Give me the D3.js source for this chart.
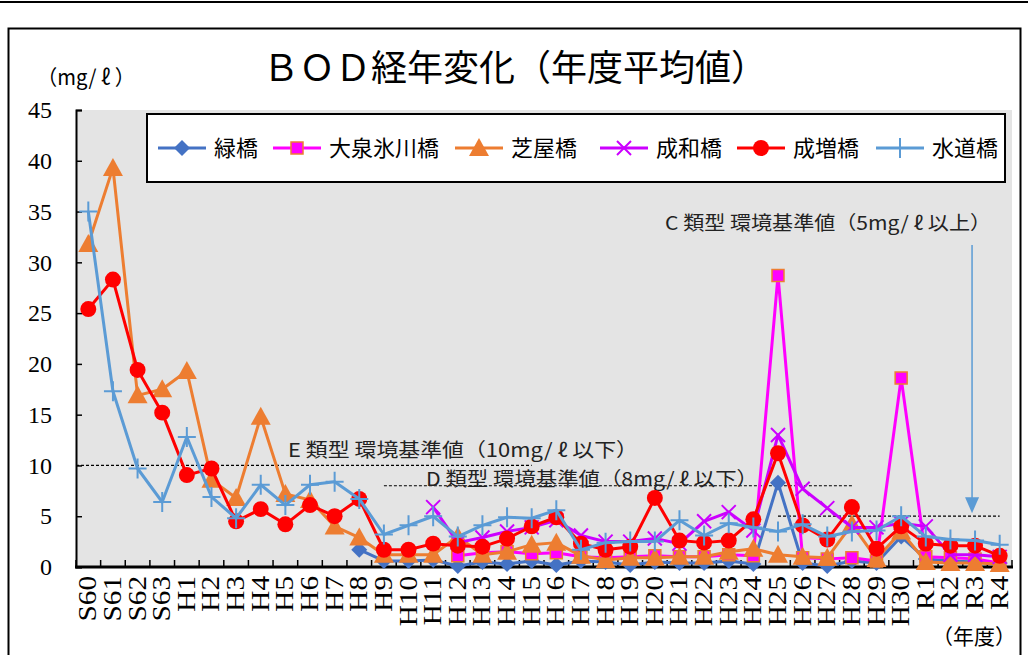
<!DOCTYPE html>
<html>
<head>
<meta charset="utf-8">
<script src="https://cdn.jsdelivr.net/npm/d3@7"></script>
<style>
  body { margin: 0; background: #fff; }
  .ytick { font-family: "Liberation Serif", "DejaVu Serif", serif !important; }
</style>
</head>
<body>
<div id="chart"></div>
<script>
const SERIF = "'Liberation Serif', 'DejaVu Serif', serif"
const JP = "'Noto Sans CJK JP', 'Noto Sans', sans-serif"

const categories = ["S60", "S61", "S62", "S63",
  "H1", "H2", "H3", "H4", "H5", "H6", "H7", "H8", "H9", "H10",
  "H11", "H12", "H13", "H14", "H15", "H16", "H17", "H18", "H19", "H20",
  "H21", "H22", "H23", "H24", "H25", "H26", "H27", "H28", "H29", "H30",
  "R1", "R2", "R3", "R4"]

const yTicks = [0, 5, 10, 15, 20, 25, 30, 35, 40, 45]

const seriesNames = ["緑橋", "大泉氷川橋", "芝屋橋", "成和橋", "成増橋", "水道橋"]

const midoriValues = [null, null, null, null, null, null, null, null, null, null, null,
  1.7, 0.6, 0.6, 0.7, 0.1, 0.5, 0.3, 0.6, 0.2, 0.6, 0.5, 0.2, 0.5,
  0.4, 0.4, 0.6, 0.3, 8.3, 0.4, 0.1, 0.6, 0.4, 3.0, 0.8, 0.6, 0.5, 0.4]

const oizumiValues = [null, null, null, null, null, null, null, null, null, null, null,
  null, null, null, null, 1.1, 1.4, 1.5, 1.3, 1.4, 1.0, 0.9, 1.0, 1.1,
  1.0, 1.0, 1.2, 1.1, 28.7, 0.9, 0.8, 0.9, 0.6, 18.6, 1.0, 0.9, 0.8, 0.4]

const shibayaValues = [31.8, 39.3, 16.9, 17.5,
  19.3, 8.6, 6.8, 14.8, 7.2, 6.6, 4.0, 2.9, 1.2, 1.2,
  1.2, 3.0, 1.2, 1.5, 2.2, 2.4, 1.1, 0.7, 0.9, 0.9,
  1.0, 1.0, 1.5, 1.8, 1.2, 1.0, 0.9, 4.2, 0.8, 3.5, 0.5, 0.4, 0.4, 0.3]

const seiwaValues = [null, null, null, null, null, null, null, null, null, null, null,
  null, null, null, 5.9, 2.4, 2.9, 3.5, 3.9, 4.6, 3.1, 2.5, 2.5, 2.8,
  2.3, 4.5, 5.4, 3.6, 13.0, 7.7, 5.8, 3.9, 3.9, 4.3, 4.0, 1.2, 1.2, 1.0]

const narimasuValues = [25.4, 28.3, 19.4, 15.2,
  9.05, 9.7, 4.5, 5.7, 4.2, 6.1, 5.0, 6.7, 1.7, 1.7,
  2.3, 2.1, 2.0, 2.8, 4.0, 4.9, 2.3, 1.7, 2.0, 6.8,
  2.6, 2.4, 2.6, 4.7, 11.2, 4.1, 2.7, 5.9, 1.8, 4.0, 2.3, 2.1, 2.1, 1.1]

const suidoValues = [35.0, 17.3, 9.7, 6.4,
  12.8, 6.9, 4.8, 8.1, 6.1, 8.1, 8.4, 6.7, 3.2, 4.1,
  5.0, 3.0, 4.1, 4.9, 4.8, 5.6, 1.7, 2.4, 2.5, 2.5,
  4.6, 3.1, 4.3, 3.9, 3.5, 4.2, 3.0, 3.5, 3.6, 5.0, 3.0, 2.7, 2.6, 2.2]

const seriesValues = [midoriValues, oizumiValues, shibayaValues, seiwaValues, narimasuValues, suidoValues]
const seriesColors = ["#4472C4", "#FF00FF", "#ED7D31", "#CC00FF", "#FF0000", "#5B9BD5"]
const seriesMarkers = ["diamond", "square", "triangle", "cross", "circle", "plus"]

// reference levels (environmental standards)
const standards = [
  { value: 10, label: "E 類型  環境基準値（10mg/ ℓ  以下）", from: "S60", to: "H15" },
  { value: 8, label: "D 類型  環境基準値（8mg/ ℓ  以下）", from: "H9", to: "H28" },
  { value: 5, label: "C 類型  環境基準値（5mg/ ℓ 以上）", from: "H25", to: "R4" }
]

class BodChart {
  constructor(wrapper) {
    this.wrapper = d3.select(wrapper)
    this.dv = {}
    this.dimensions = {
      width: 1028,
      height: 655,
      plot: { left: 76, right: 1012, top: 110, bottom: 567 }
    }
  }

  create() {
    this.setScales()
    this.initialise()
    this.drawAxes()
    this.drawStandards()
    this.drawSeries()
    this.drawLegend()
  }

  setScales() {
    const p = this.dimensions.plot
    this.dv.x = d3.scaleBand().domain(categories).range([p.left, p.right]).padding(0)
    this.dv.y = d3.scaleLinear().domain([0, 45]).range([p.bottom, p.top])
  }

  initialise() {
    const d = this.dimensions
    const svg = this.wrapper.append("svg")
      .attr("width", d.width)
      .attr("height", d.height)
    this.dv.svg = svg

    // outer frames
    svg.append("line")
      .attr("x1", 0).attr("x2", d.width).attr("y1", 2).attr("y2", 2)
      .attr("stroke", "#000").attr("stroke-width", 2)
    svg.append("rect")
      .attr("x", 8.5).attr("y", 28.5)
      .attr("width", 1012).attr("height", 660)
      .attr("fill", "#fff").attr("stroke", "#000").attr("stroke-width", 2)

    svg.append("rect")
      .attr("x", d.plot.left).attr("y", d.plot.top)
      .attr("width", d.plot.right - d.plot.left)
      .attr("height", d.plot.bottom - d.plot.top)
      .attr("fill", "#E4E4E4")

    svg.append("text")
      .attr("font-family", JP)
      .attr("x", 515).attr("y", 81)
      .attr("text-anchor", "middle")
      .attr("font-size", 36)
      .text("ＢＯＤ経年変化（年度平均値）")

    svg.append("text")
      .attr("font-family", JP)
      .attr("x", 37).attr("y", 85)
      .attr("font-size", 21)
      .attr("textLength", 98)
      .attr("lengthAdjust", "spacingAndGlyphs")
      .text("（mg/ ℓ ）")

    svg.append("text")
      .attr("font-family", JP)
      .attr("x", 1016).attr("y", 644)
      .attr("text-anchor", "end")
      .attr("font-size", 21)
      .text("（年度）")
  }

  drawAxes() {
    const { x, y, svg } = this.dv
    const p = this.dimensions.plot

    const yAxis = svg.append("g")
      .attr("transform", `translate(${p.left},0)`)
      .call(d3.axisLeft(y).tickValues(yTicks).tickSize(-6).tickPadding(24))
    yAxis.attr("font-family", SERIF).attr("font-size", 24)
    yAxis.select(".domain").attr("stroke-width", 2)
    yAxis.selectAll(".tick line").attr("stroke-width", 1.5)
    yAxis.selectAll("text")
      .attr("class", "ytick")
      .attr("font-family", SERIF)
      .attr("fill", "#000")

    // category boundary ticks, pointing into the plot
    const bounds = categories.map(c => x(c)).concat([p.right])
    svg.append("g").selectAll("line")
      .data(bounds)
      .enter().append("line")
      .attr("x1", d => d).attr("x2", d => d)
      .attr("y1", p.bottom).attr("y2", p.bottom - 7)
      .attr("stroke", "#000").attr("stroke-width", 1.5)

    svg.append("line")
      .attr("x1", p.left - 1).attr("x2", p.right + 1)
      .attr("y1", p.bottom).attr("y2", p.bottom)
      .attr("stroke", "#000").attr("stroke-width", 3)

    svg.append("g").selectAll("text")
      .data(categories)
      .enter().append("text")
      .attr("font-family", SERIF)
      .attr("font-size", 25)
      .attr("text-anchor", "end")
      .attr("transform", d => `translate(${x(d) + x.bandwidth() / 2 + 8},${p.bottom + 9}) rotate(-90) scale(1.17,1)`)
      .text(d => d)
  }

  drawStandards() {
    const { x, y, svg } = this.dv
    const g = svg.append("g")
    const bw = x.bandwidth()

    g.selectAll("line")
      .data(standards)
      .enter().append("line")
      .attr("x1", d => d.from === "S60" ? this.dimensions.plot.left : x(d.from) + bw / 2)
      .attr("x2", d => x(d.to) + bw / 2)
      .attr("y1", d => y(d.value)).attr("y2", d => y(d.value))
      .attr("stroke", "#000").attr("stroke-width", 1.2)
      .attr("stroke-dasharray", "3,2")

    const labelPos = [
      { x: 288, y: 457, w: 350 },
      { x: 426, y: 486, w: 332 },
      { x: 665, y: 230, w: 326 }
    ]
    g.selectAll("text")
      .data(standards)
      .enter().append("text")
      .attr("font-family", JP)
      .attr("font-size", 19)
      .attr("x", (d, i) => labelPos[i].x)
      .attr("y", (d, i) => labelPos[i].y)
      .attr("textLength", (d, i) => labelPos[i].w)
      .attr("lengthAdjust", "spacingAndGlyphs")
      .attr("fill", "#222")
      .text(d => d.label)

    // arrow pointing down to the C standard line
    const ax = x("R3") + bw / 2 - 3
    g.append("line")
      .attr("x1", ax).attr("x2", ax)
      .attr("y1", 245).attr("y2", y(5) - 14)
      .attr("stroke", "#5B9BD5").attr("stroke-width", 1.5)
    g.append("path")
      .attr("d", `M${ax - 7},${y(5) - 19} L${ax + 7},${y(5) - 19} L${ax},${y(5) - 3} Z`)
      .attr("fill", "#5B9BD5")
  }

  markerPath(type) {
    switch (type) {
      case "diamond": return "M0,-8 L8,0 L0,8 L-8,0 Z"
      case "square": return "M-6,-6 L6,-6 L6,6 L-6,6 Z"
      case "triangle": return "M0,-10 L10,8 L-10,8 Z"
      case "cross": return "M-7,-7 L7,7 M-7,7 L7,-7"
      case "circle": return d3.symbol(d3.symbolCircle, 200)()
      case "plus": return "M-9,0 L9,0 M0,-10 L0,10"
    }
  }

  drawMarker(sel, i) {
    const type = seriesMarkers[i]
    const color = seriesColors[i]
    const path = sel.append("path").attr("d", this.markerPath(type))
    if (type === "cross" || type === "plus") {
      path.attr("fill", "none").attr("stroke", color).attr("stroke-width", 2)
    } else if (type === "square") {
      path.attr("fill", color).attr("stroke", "#ED7D31").attr("stroke-width", 1.5)
    } else {
      path.attr("fill", color)
    }
  }

  drawSeries() {
    const { x, y, svg } = this.dv
    const bw = x.bandwidth()
    const line = d3.line()
      .defined(d => d.v !== null)
      .x(d => x(d.c) + bw / 2)
      .y(d => y(d.v))

    seriesValues.forEach((values, i) => {
      const pts = values.map((v, j) => ({ c: categories[j], v }))
      const g = svg.append("g")
      g.append("path")
        .datum(pts)
        .attr("d", line)
        .attr("fill", "none")
        .attr("stroke", seriesColors[i])
        .attr("stroke-width", 3)
        .attr("stroke-linejoin", "round")

      g.selectAll("g.m")
        .data(pts.filter(d => d.v !== null))
        .enter().append("g")
        .attr("class", "m")
        .attr("transform", d => `translate(${x(d.c) + bw / 2},${y(d.v)})`)
        .each((d, k, nodes) => this.drawMarker(d3.select(nodes[k]), i))
    })
  }

  drawLegend() {
    const svg = this.dv.svg
    svg.append("rect")
      .attr("x", 147).attr("y", 114)
      .attr("width", 858).attr("height", 68)
      .attr("fill", "#fff").attr("stroke", "#000").attr("stroke-width", 2)

    const itemX = [158, 273, 455, 600, 737, 876]
    const items = svg.append("g").selectAll("g")
      .data(seriesNames)
      .enter().append("g")
      .attr("transform", (d, i) => `translate(${itemX[i]},148)`)

    items.append("line")
      .attr("x1", 0).attr("x2", 48)
      .attr("stroke", (d, i) => seriesColors[i])
      .attr("stroke-width", 3)
    items.append("g")
      .attr("transform", "translate(24,0)")
      .each((d, i, nodes) => this.drawMarker(d3.select(nodes[i]), i))
    items.append("text")
      .attr("font-family", JP)
      .attr("x", 56).attr("y", 8)
      .attr("font-size", 22)
      .text(d => d)
  }
}

new BodChart("#chart").create()
</script>
</body>
</html>
